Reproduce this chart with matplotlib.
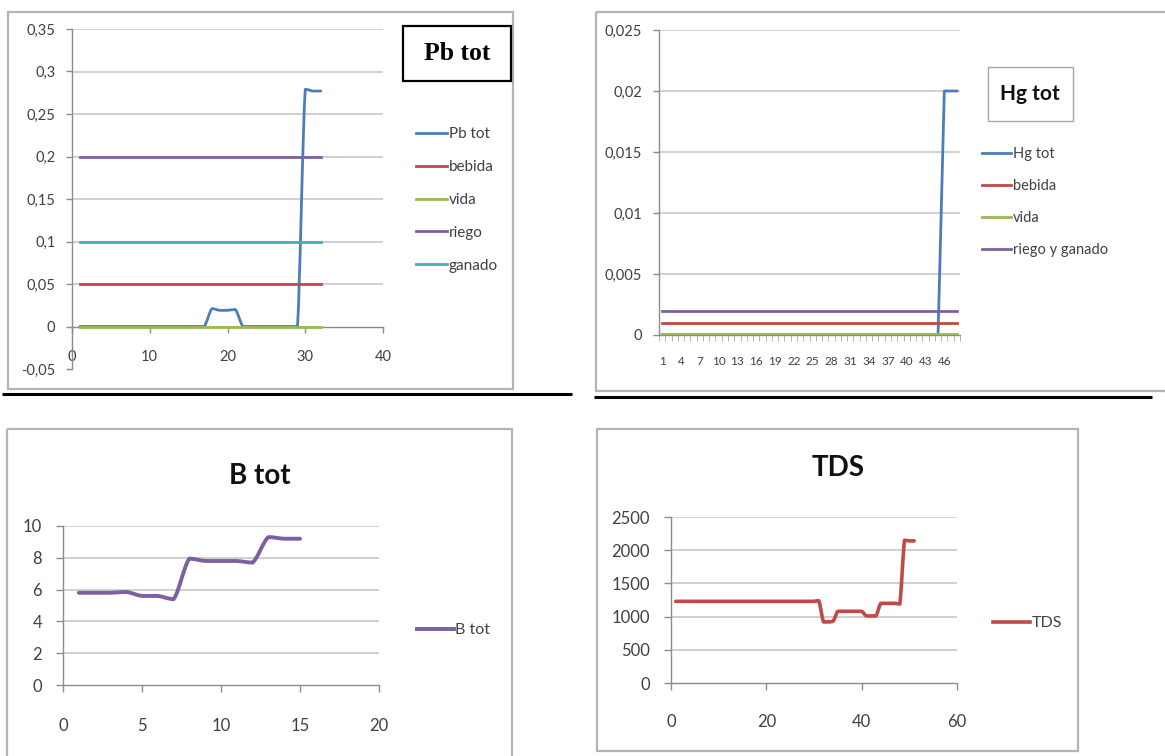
import numpy as np
import matplotlib
matplotlib.use("Agg")
import matplotlib.pyplot as plt
from matplotlib.path import Path
from matplotlib.patches import PathPatch, Rectangle
from matplotlib.lines import Line2D
from matplotlib.ticker import MultipleLocator, FuncFormatter

plt.rcParams['font.family'] = ['Lato', 'DejaVu Sans']

W, H = 1165, 756

BLUE = '#4a7ebb'
RED = '#be4b48'
GREEN = '#98b954'
PURPLE = '#7d60a0'
CYAN = '#46aac5'
GRID = '#c8c8c8'
AXIS = '#8c8c8c'
LABEL = '#404040'

# --- Pb tot -------------------------------------------------------------
pb_x = list(range(1, 33))
pb_tot = [0, 0, 0, 0, 0, 0, 0, 0, 0, 0, 0, 0, 0, 0, 0, 0, 0,
          0.021, 0.019, 0.019, 0.02,
          0, 0, 0, 0, 0, 0, 0, 0,
          0.279, 0.277, 0.277]
pb_bebida = 0.05
pb_vida = 0.0
pb_riego = 0.2
pb_ganado = 0.1

# --- Hg tot (category axis, 48 samples) ---------------------------------
hg_x = list(range(1, 49))
hg_tot = [0] * 45 + [0.02, 0.02, 0.02]
hg_bebida = 0.001
hg_vida = 0.0001
hg_riego_ganado = 0.002

# --- B tot --------------------------------------------------------------
b_x = list(range(1, 16))
b_tot = [5.8, 5.8, 5.8, 5.85, 5.6, 5.6, 5.4, 7.95, 7.8, 7.8, 7.8, 7.7,
         9.3, 9.2, 9.2]

# --- TDS ----------------------------------------------------------------
tds_x = list(range(1, 52))
tds = [1230] * 30 + [1240, 920, 920, 930,
                     1080, 1080, 1080, 1080, 1080, 1080,
                     1010, 1010, 1010,
                     1200, 1200, 1200, 1200, 1190,
                     2150, 2140, 2140]


def comma(v, pos=None):
    return f"{v:g}".replace('.', ',')


def rect(x0, y0, x1, y1):
    return [x0 / W, 1 - y1 / H, (x1 - x0) / W, (y1 - y0) / H]


def smooth_path(x, y):
    # Catmull-Rom style Bezier segments; control points are kept inside
    # each segment's y range so the curve does not overshoot big steps
    pts = np.column_stack([np.asarray(x, float), np.asarray(y, float)])
    n = len(pts)
    verts = [pts[0]]
    codes = [Path.MOVETO]
    for i in range(n - 1):
        p0 = pts[max(i - 1, 0)]
        p1 = pts[i]
        p2 = pts[i + 1]
        p3 = pts[min(i + 2, n - 1)]
        c1 = p1 + (p2 - p0) / 6
        c2 = p2 - (p3 - p1) / 6
        lo, hi = min(p1[1], p2[1]), max(p1[1], p2[1])
        c1[1] = np.clip(c1[1], lo, hi)
        c2[1] = np.clip(c2[1], lo, hi)
        verts += [c1, c2, p2]
        codes += [Path.CURVE4] * 3
    return Path(verts, codes)


def smooth_line(ax, x, y, color, lw, zorder=3):
    ax.add_patch(PathPatch(smooth_path(x, y), fill=False, edgecolor=color,
                           lw=lw, joinstyle='round', capstyle='round',
                           zorder=zorder))
    return Line2D([], [], color=color, lw=lw)


def style_axes(ax, fs, xpad, ypad):
    ax.set_facecolor('none')
    for s in ('top', 'right'):
        ax.spines[s].set_visible(False)
    for s in ('left', 'bottom'):
        ax.spines[s].set_color(AXIS)
        ax.spines[s].set_linewidth(1.0)
    ax.tick_params(axis='both', colors=AXIS, labelcolor=LABEL,
                   labelsize=fs, length=4, width=1.0)
    ax.tick_params(axis='x', pad=xpad)
    ax.tick_params(axis='y', pad=ypad)


def hgrid(ax, values, x0, x1):
    for v in values:
        ax.plot([x0, x1], [v, v], color=GRID, lw=1.2, zorder=1)


fig = plt.figure(figsize=(W / 100, H / 100), dpi=100)

# page layer in pixel coordinates: chart frames and rules
bg = fig.add_axes([0, 0, 1, 1], zorder=0)
bg.set_xlim(0, W)
bg.set_ylim(H, 0)
bg.axis('off')
for x0, y0, x1, y1 in [(8, 12, 513, 389), (596, 12, 1180, 391),
                       (7, 429, 512, 780), (597, 429, 1078, 751)]:
    bg.add_patch(Rectangle((x0, y0), x1 - x0, y1 - y0, fill=False,
                           edgecolor='#b4b4b4', lw=1.6))
bg.plot([2, 572], [394, 394], color='black', lw=2.2, solid_capstyle='butt')
bg.plot([594, 1152], [397, 397], color='black', lw=2.2, solid_capstyle='butt')

# title boxes
bg.add_patch(Rectangle((403, 26), 108, 55, fill=False, edgecolor='black', lw=1.6))
bg.text(457, 54, 'Pb tot', ha='center', va='center', fontsize=18.5,
        fontweight='bold', family='Liberation Serif')
bg.add_patch(Rectangle((988, 67), 85, 54, fill=False, edgecolor='#a8a8a8', lw=1.0))
bg.text(1030, 94, 'Hg tot', ha='center', va='center', fontsize=15,
        fontweight='bold', color='#111111')
bg.text(260, 476, 'B tot', ha='center', va='center', fontsize=20,
        fontweight='bold', color='#111111')
bg.text(838, 468, 'TDS', ha='center', va='center', fontsize=20,
        fontweight='bold', color='#111111')

# ---------------- Pb tot ----------------
ax1 = fig.add_axes(rect(72, 29, 383, 369), zorder=1)
ax1.set_xlim(0, 40)
ax1.set_ylim(-0.05, 0.35)
style_axes(ax1, 10.5, 13, 8)
ax1.spines['bottom'].set_position(('data', 0))
ax1.xaxis.set_major_locator(MultipleLocator(10))
ax1.yaxis.set_major_locator(MultipleLocator(0.05))
ax1.yaxis.set_major_formatter(FuncFormatter(comma))
hgrid(ax1, [0.05, 0.1, 0.15, 0.2, 0.25, 0.3, 0.35], 0, 40)

h_pb = smooth_line(ax1, pb_x, pb_tot, BLUE, 2.0, zorder=3)
h_beb, = ax1.plot(pb_x, [pb_bebida] * len(pb_x), color=RED, lw=2.0, zorder=4)
h_vida, = ax1.plot(pb_x, [pb_vida] * len(pb_x), color=GREEN, lw=2.0, zorder=4)
h_rie, = ax1.plot(pb_x, [pb_riego] * len(pb_x), color=PURPLE, lw=2.0, zorder=4)
h_gan, = ax1.plot(pb_x, [pb_ganado] * len(pb_x), color=CYAN, lw=2.0, zorder=4)
ax1.legend([h_pb, h_beb, h_vida, h_rie, h_gan],
           ['Pb tot', 'bebida', 'vida', 'riego', 'ganado'],
           loc='center left', bbox_to_anchor=(416 / W, 1 - 200 / H),
           bbox_transform=fig.transFigure, frameon=False, fontsize=11,
           labelcolor=LABEL, handlelength=2.0, handletextpad=0.15,
           labelspacing=1.23, borderpad=0, borderaxespad=0)

# ---------------- Hg tot ----------------
ax2 = fig.add_axes(rect(659, 30, 960, 335), zorder=1)
ax2.set_xlim(0.5, 48.5)
ax2.set_ylim(0, 0.025)
style_axes(ax2, 10.5, 15, 8)
ax2.set_xticks(hg_x[::3])
ax2.set_xticklabels([str(v) for v in hg_x[::3]], fontsize=8.5)
ax2.set_xticks(np.arange(0.5, 49, 1), minor=True)
ax2.tick_params(axis='x', which='major', length=0)
ax2.tick_params(axis='x', which='minor', length=4, colors='#a8a8a8')
ax2.yaxis.set_major_locator(MultipleLocator(0.005))
ax2.yaxis.set_major_formatter(FuncFormatter(comma))
hgrid(ax2, [0.005, 0.01, 0.015, 0.02, 0.025], 0.5, 48.5)

g_hg, = ax2.plot(hg_x, hg_tot, color=BLUE, lw=2.0, zorder=3)
g_beb, = ax2.plot(hg_x, [hg_bebida] * len(hg_x), color=RED, lw=2.0, zorder=4)
g_vida, = ax2.plot(hg_x, [hg_vida] * len(hg_x), color=GREEN, lw=2.0, zorder=4)
g_rg, = ax2.plot(hg_x, [hg_riego_ganado] * len(hg_x), color=PURPLE, lw=2.0, zorder=4)
ax2.legend([g_hg, g_beb, g_vida, g_rg],
           ['Hg tot', 'bebida', 'vida', 'riego y ganado'],
           loc='center left', bbox_to_anchor=(982 / W, 1 - 202 / H),
           bbox_transform=fig.transFigure, frameon=False, fontsize=10.5,
           labelcolor=LABEL, handlelength=2.0, handletextpad=0.1,
           labelspacing=1.25, borderpad=0, borderaxespad=0)

# ---------------- B tot ----------------
ax3 = fig.add_axes(rect(63, 526, 379, 685), zorder=1)
ax3.set_xlim(0, 20)
ax3.set_ylim(0, 10)
style_axes(ax3, 12, 19, 10)
ax3.tick_params(length=5)
ax3.xaxis.set_major_locator(MultipleLocator(5))
ax3.yaxis.set_major_locator(MultipleLocator(2))
hgrid(ax3, [2, 4, 6, 8, 10], 0, 20)
h_b = smooth_line(ax3, b_x, b_tot, PURPLE, 2.8)
ax3.legend([h_b], ['B tot'], loc='center left',
           bbox_to_anchor=(417 / W, 1 - 630 / H),
           bbox_transform=fig.transFigure, frameon=False, fontsize=11.5,
           labelcolor=LABEL, handlelength=2.3, handletextpad=0.1,
           borderpad=0, borderaxespad=0)

# ---------------- TDS ----------------
ax4 = fig.add_axes(rect(671, 517, 957, 683), zorder=1)
ax4.set_xlim(0, 60)
ax4.set_ylim(0, 2500)
style_axes(ax4, 12, 17, 10)
ax4.tick_params(length=5)
ax4.xaxis.set_major_locator(MultipleLocator(20))
ax4.yaxis.set_major_locator(MultipleLocator(500))
hgrid(ax4, [500, 1000, 1500, 2000, 2500], 0, 60)
h_t = smooth_line(ax4, tds_x, tds, RED, 2.6)
ax4.legend([h_t], ['TDS'], loc='center left',
           bbox_to_anchor=(993 / W, 1 - 623 / H),
           bbox_transform=fig.transFigure, frameon=False, fontsize=11.5,
           labelcolor=LABEL, handlelength=2.3, handletextpad=0.1,
           borderpad=0, borderaxespad=0)

fig.savefig('out.png', dpi=100, facecolor='white')
